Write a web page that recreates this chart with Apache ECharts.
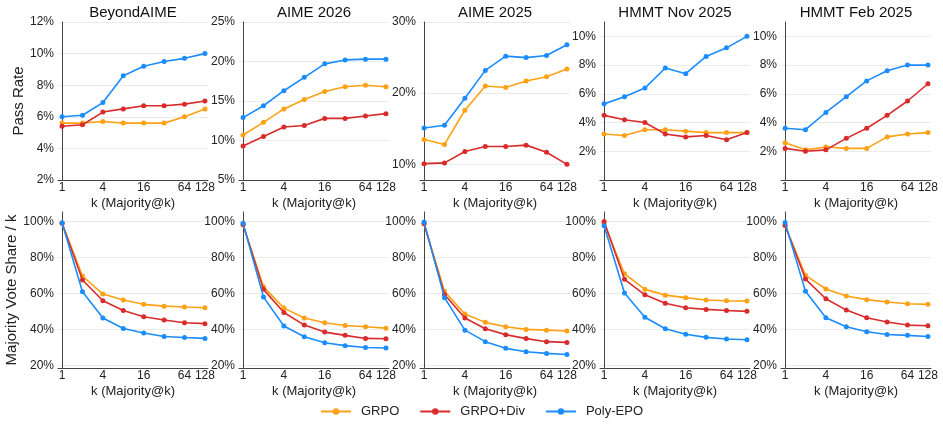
<!DOCTYPE html>
<html>
<head>
<meta charset="utf-8">
<script src="https://cdn.jsdelivr.net/npm/echarts@6/dist/echarts.min.js"></script>
<style>
  html, body { margin: 0; padding: 0; background: #fff; }
  #main { width: 943px; height: 426px; }
</style>
</head>
<body>
<div id="main"></div>
<script>
// k values (log2 scale on x)
var ks = [1, 2, 4, 8, 16, 32, 64, 128];
var xTicks = [1, 4, 16, 64, 128];
var titles = ['BeyondAIME', 'AIME 2026', 'AIME 2025', 'HMMT Nov 2025', 'HMMT Feb 2025'];
var methods = ['GRPO', 'GRPO+Div', 'Poly-EPO'];
var colors = ['#ffa114', '#d92b2b', '#1a8cff'];

// Pass rate (%) per benchmark
var passGrpo = [
  [5.6, 5.6, 5.7, 5.6, 5.6, 5.6, 6.0, 6.5],
  [10.7, 12.3, 14.0, 15.2, 16.2, 16.8, 17.0, 16.8],
  [13.5, 12.8, 17.6, 21.0, 20.8, 21.7, 22.3, 23.4],
  [3.2, 3.1, 3.5, 3.5, 3.4, 3.3, 3.3, 3.3],
  [2.6, 2.1, 2.3, 2.2, 2.2, 3.0, 3.2, 3.3]
];
var passDiv = [
  [5.4, 5.5, 6.3, 6.5, 6.7, 6.7, 6.8, 7.0],
  [9.3, 10.5, 11.7, 11.9, 12.8, 12.8, 13.1, 13.4],
  [10.1, 10.2, 11.8, 12.5, 12.5, 12.7, 11.7, 10.0],
  [4.5, 4.2, 4.0, 3.2, 3.0, 3.1, 2.8, 3.3],
  [2.2, 2.0, 2.1, 2.9, 3.6, 4.5, 5.5, 6.7]
];
var passPoly = [
  [6.0, 6.1, 6.9, 8.6, 9.2, 9.5, 9.7, 10.0],
  [12.9, 14.4, 16.3, 18.0, 19.7, 20.2, 20.3, 20.3],
  [15.1, 15.5, 19.3, 23.2, 25.2, 25.0, 25.3, 26.8],
  [5.3, 5.8, 6.4, 7.8, 7.4, 8.6, 9.2, 10.0],
  [3.6, 3.5, 4.7, 5.8, 6.9, 7.6, 8.0, 8.0]
];

// Majority vote share / k (%)
var shareGrpo = [
  [99.0, 69.7, 59.7, 56.4, 54.0, 53.0, 52.5, 52.1],
  [98.0, 63.8, 51.9, 46.4, 43.8, 42.3, 41.6, 40.8],
  [98.5, 61.2, 48.6, 44.0, 41.6, 40.1, 39.7, 39.2],
  [99.0, 71.0, 62.3, 59.1, 57.7, 56.4, 56.0, 55.8],
  [97.6, 70.1, 62.5, 58.6, 56.6, 55.3, 54.3, 54.0]
];
var shareDiv = [
  [99.0, 67.5, 56.0, 50.6, 47.1, 45.3, 43.8, 43.3],
  [98.3, 62.3, 49.5, 42.5, 38.6, 36.8, 35.1, 34.9],
  [98.8, 59.5, 46.4, 40.5, 37.2, 35.0, 33.3, 32.9],
  [100.0, 67.9, 59.3, 54.6, 52.1, 51.2, 50.6, 50.1],
  [97.8, 68.0, 57.1, 50.8, 46.6, 44.2, 42.5, 42.1]
];
var sharePoly = [
  [99.2, 61.0, 46.4, 40.6, 38.1, 36.2, 35.6, 35.1],
  [98.9, 58.0, 42.0, 36.0, 32.7, 31.1, 30.1, 29.8],
  [99.6, 57.7, 39.7, 33.3, 29.6, 27.7, 26.8, 26.2],
  [97.6, 60.3, 46.8, 40.5, 37.4, 35.7, 34.8, 34.4],
  [99.4, 61.2, 46.6, 41.6, 38.8, 37.3, 36.8, 36.2]
];

var passTicks = [[2, 4, 6, 8, 10, 12], [5, 10, 15, 20, 25], [10, 20, 30], [2, 4, 6, 8, 10], [2, 4, 6, 8, 10]];
var passRange = [[2, 12], [5, 25], [7.8, 30], [0, 11], [0, 11]];
var shareTicks = [20, 40, 60, 80, 100];
var shareRange = [18.7, 105.2];

var panelLeft = [58, 239, 420, 600, 781];
var panelWidth = 150;
var font = 'Liberation Sans, Arial, sans-serif';

var myChart = echarts.init(document.getElementById('main'), null, { renderer: 'canvas' });

var grids = [], xAxes = [], yAxes = [], series = [], titleList = [];
var rows = [
  { top: 22, height: 158, sets: [passGrpo, passDiv, passPoly], name: 'Pass Rate', nameGap: 30 },
  { top: 212, height: 156, sets: [shareGrpo, shareDiv, sharePoly], name: 'Majority Vote Share / k', nameGap: 33 }
];

rows.forEach(function (row, r) {
  for (var i = 0; i < 5; i++) {
    var g = r * 5 + i;
    grids.push({ left: panelLeft[i], top: row.top, width: panelWidth, height: row.height });
    xAxes.push({
      gridIndex: g,
      type: 'value',
      min: -0.2,
      max: 7.15,
      name: 'k (Majority@k)',
      nameLocation: 'middle',
      nameGap: 17,
      nameTextStyle: { fontSize: 13, color: '#222', fontFamily: font },
      axisLine: { show: true, lineStyle: { color: '#444', width: 1 } },
      axisTick: { show: false, customValues: xTicks.map(Math.log2) },
      splitLine: { show: false },
      axisLabel: {
        customValues: xTicks.map(Math.log2),
        formatter: function (v) { return String(Math.round(Math.pow(2, v))); },
        fontSize: 12, color: '#222', margin: 2, fontFamily: font
      }
    });
    var ticks = r === 0 ? passTicks[i] : shareTicks;
    var range = r === 0 ? passRange[i] : shareRange;
    yAxes.push({
      gridIndex: g,
      type: 'value',
      min: range[0],
      max: range[1],
      name: i === 0 ? row.name : '',
      nameLocation: 'middle',
      nameGap: row.nameGap,
      nameTextStyle: { fontSize: 15, color: '#222', fontFamily: font },
      axisLine: { show: true, lineStyle: { color: '#444', width: 1 } },
      axisTick: { show: false, customValues: ticks },
      splitLine: { show: true, lineStyle: { color: '#ebebeb', width: 1 } },
      axisLabel: {
        customValues: ticks,
        formatter: function (v) { return v + '%'; },
        fontSize: 12, color: '#222', margin: 4, fontFamily: font
      }
    });
    for (var m = 0; m < 3; m++) {
      var vals = row.sets[m][i];
      series.push({
        name: methods[m],
        type: 'line',
        xAxisIndex: g,
        yAxisIndex: g,
        data: ks.map(function (k, j) { return [Math.log2(k), vals[j]]; }),
        symbol: 'circle',
        symbolSize: 5,
        color: colors[m],
        lineStyle: { width: 1.6, color: colors[m] },
        itemStyle: { color: colors[m] },
        z: 2 + m
      });
    }
    if (r === 0) {
      titleList.push({
        text: titles[i],
        left: panelLeft[i] + panelWidth / 2,
        top: 5,
        padding: 0,
        textAlign: 'center',
        textStyle: { fontSize: 15, fontWeight: 'normal', color: '#111', fontFamily: font }
      });
    }
  }
});

option = {
  animation: false,
  backgroundColor: '#fff',
  title: titleList,
  legend: {
    data: methods,
    top: 405,
    left: 320,
    padding: 0,
    itemWidth: 30,
    itemHeight: 8,
    itemGap: 20,
    textStyle: { fontSize: 13, color: '#222', fontFamily: font, padding: [0, 0, 0, 5] }
  },
  grid: grids,
  xAxis: xAxes,
  yAxis: yAxes,
  series: series
};
myChart.setOption(option);
</script>
</body>
</html>
